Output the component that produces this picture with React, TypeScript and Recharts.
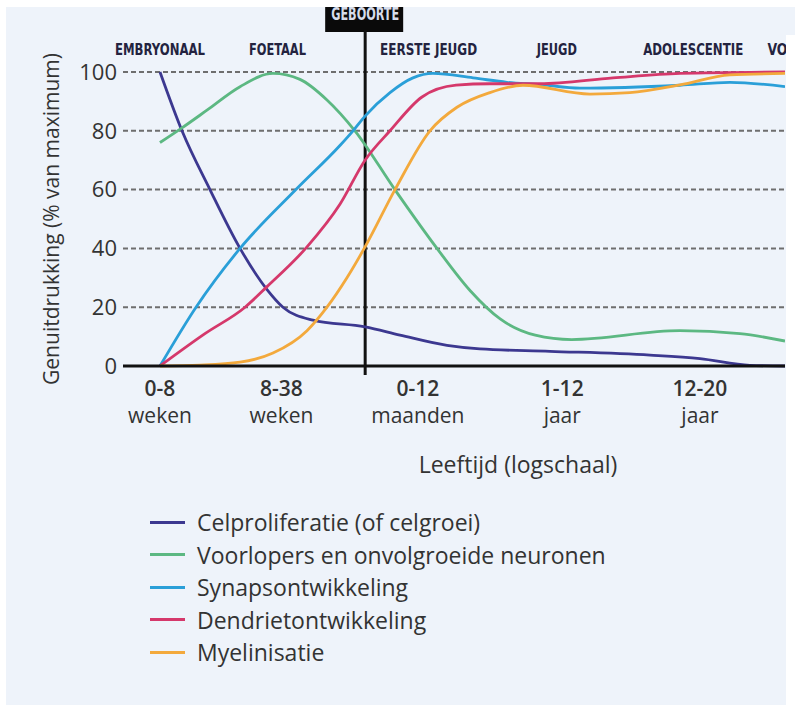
import React from 'react';
import { LineChart, Line, XAxis, YAxis, CartesianGrid, ReferenceLine } from 'recharts';

// ---------------------------------------------------------------------------
// Axes & labels
// ---------------------------------------------------------------------------

// age on a log-like position scale (0 = "0-8 weken")
const AGE_DOMAIN = [-0.274, 4.63];
const AGE_TICKS = [0, 0.9, 1.91, 2.98, 4];
const AGE_TOP = ['0-8', '8-38', '0-12', '1-12', '12-20'];
const AGE_BOTTOM = ['weken', 'weken', 'maanden', 'jaar', 'jaar'];

const PHASE_POS = [0, 0.87, 1.99, 2.94, 3.95, 4.5];
const PHASES = ['EMBRYONAAL', 'FOETAAL', 'EERSTE JEUGD', 'JEUGD', 'ADOLESCENTIE', 'VOLWASSENHEID'];
const PHASE_WIDTH = [90, 57, 97, 40, 100, 120];

const BIRTH = 1.52;
const Y_TICKS = [0, 20, 40, 60, 80, 100];

// ---------------------------------------------------------------------------
// Series (x = age position, y = % van maximum)
// ---------------------------------------------------------------------------

const CEL_X = [0, 0.163, 0.37, 0.593, 0.793, 0.911, 1.133, 1.519, 1.778, 2.126, 2.37, 2.889, 3.63, 4.0, 4.37, 4.63];
const CEL_Y = [100, 80, 60, 40, 26, 20, 15.6, 13.3, 10.5, 7, 5.8, 5, 3.7, 2.5, 0.2, 0];

const VOOR_X = [0, 0.163, 0.348, 0.593, 0.837, 1.037, 1.237, 1.444, 1.74, 2.052, 2.3, 2.52, 2.78, 3.05, 3.85, 4.296, 4.63];
const VOOR_Y = [76, 81, 87, 95, 99.5, 97.5, 90.5, 80, 60, 40, 25.5, 16, 10.5, 9, 12, 11, 8.5];

const SYN_X = [0, 0.267, 0.593, 1.007, 1.333, 1.43, 1.519, 1.704, 1.874, 2.022, 2.319, 2.57, 2.815, 3.111, 3.852, 4.222, 4.63];
const SYN_Y = [0, 20, 40, 60, 75, 80, 85, 93, 98, 99.5, 98, 96.5, 95.7, 94.5, 95.5, 96.5, 95];

const DEN_X = [0, 0.333, 0.63, 0.793, 1.089, 1.333, 1.519, 1.704, 1.941, 2.193, 2.444, 2.815, 3.356, 3.852, 4.63];
const DEN_Y = [0, 11, 20, 27, 40.5, 55, 70, 80, 91.5, 95.5, 96, 96, 98, 99.5, 100];

const MYE_X = [0, 0.296, 0.593, 0.837, 1.089, 1.237, 1.385, 1.519, 1.741, 2.0, 2.2, 2.444, 2.689, 3.185, 3.481, 3.852, 4.222, 4.63];
const MYE_Y = [0, 0.3, 1.3, 4.4, 12, 20, 30, 40.5, 60, 80, 88, 93, 95.5, 92.5, 93, 95.6, 99, 99.5];

const zip = (xs: number[], ys: number[]) => xs.map((x, i) => ({ x, y: ys[i] }));

const SERIES = [
  { name: 'Celproliferatie (of celgroei)', color: '#3c3890', data: zip(CEL_X, CEL_Y) },
  { name: 'Voorlopers en onvolgroeide neuronen', color: '#5cb882', data: zip(VOOR_X, VOOR_Y) },
  { name: 'Synapsontwikkeling', color: '#2a9fd8', data: zip(SYN_X, SYN_Y) },
  { name: 'Dendrietontwikkeling', color: '#d5386b', data: zip(DEN_X, DEN_Y) },
  { name: 'Myelinisatie', color: '#f3a93c', data: zip(MYE_X, MYE_Y) },
];

const FONT = '"Open Sans", "Noto Sans", sans-serif';
const NARROW = '"Liberation Sans Narrow", "DejaVu Sans Condensed", sans-serif';
const TEXT = '#333';

// ---------------------------------------------------------------------------
// Custom ticks / shapes
// ---------------------------------------------------------------------------

function AgeTick({ x, y, payload }: any) {
  const i = AGE_TICKS.indexOf(payload.value);
  if (i < 0) return null;
  return (
    <text x={x} y={y} textAnchor="middle" fontFamily={FONT} fontSize={21} fill={TEXT}>
      <tspan x={x} dy={30} fontWeight={600}>{AGE_TOP[i]}</tspan>
      <tspan x={x} dy={27}>{AGE_BOTTOM[i]}</tspan>
    </text>
  );
}

function PhaseLabel(i: number) {
  return ({ viewBox }: any) => {
    const last = i === PHASES.length - 1;
    return (
      <text
        x={viewBox.x}
        y={viewBox.y - 17}
        textAnchor={last ? 'start' : 'middle'}
        fontFamily={NARROW}
        fontWeight="bold"
        fontSize={16}
        fill="#23233f"
        textLength={PHASE_WIDTH[i]}
        lengthAdjust="spacingAndGlyphs"
      >
        {PHASES[i]}
      </text>
    );
  };
}

function BirthMarker(props: any) {
  const { x1, y1, y2 } = props;
  const top = Math.min(y1, y2);
  const bottom = Math.max(y1, y2);
  return (
    <g>
      <rect x={x1 - 40} y={top - 72} width={78} height={32} fill="#0a0a0a" />
      <text
        x={x1}
        y={top - 52}
        textAnchor="middle"
        fontFamily={NARROW}
        fontWeight="bold"
        fontSize={18}
        fill="#d5dceb"
        textLength={68}
        lengthAdjust="spacingAndGlyphs"
      >
        GEBOORTE
      </text>
      <line x1={x1} x2={x1} y1={top - 42} y2={bottom + 9} stroke="#111" strokeWidth={3} />
    </g>
  );
}

function LegendList() {
  return (
    <div style={{ fontFamily: FONT, fontSize: 23, color: TEXT }}>
      {SERIES.map((s) => (
        <div key={s.name} style={{ display: 'flex', alignItems: 'center', height: 32.5 }}>
          <span style={{ width: 35, height: 3, background: s.color, marginRight: 12, display: 'inline-block' }} />
          {s.name}
        </div>
      ))}
    </div>
  );
}

// ---------------------------------------------------------------------------
// Component
// ---------------------------------------------------------------------------

export default function App() {
  return (
    <div style={{ position: 'absolute', left: 0, top: 0, width: 795, height: 706, background: '#fff' }}>
      <div style={{ position: 'absolute', left: 6, top: 7, right: 0, bottom: 1, background: '#eef3fa' }} />
      <div style={{ position: 'absolute', left: 0, top: 0 }}>
        <LineChart width={795} height={706} margin={{ top: 72, right: 10, left: 0, bottom: 280 }}>
          <CartesianGrid vertical={false} stroke="#6e6e6e" strokeWidth={2} strokeDasharray="5 3" />
          <XAxis
            dataKey="x"
            type="number"
            domain={AGE_DOMAIN}
            allowDataOverflow
            ticks={AGE_TICKS}
            tick={<AgeTick />}
            axisLine={{ stroke: '#111', strokeWidth: 3 }}
            tickLine={false}
            tickSize={0}
            tickMargin={0}
            height={60}
            interval={0}
          />
          <YAxis
            type="number"
            domain={[0, 100]}
            ticks={Y_TICKS}
            width={123}
            axisLine={false}
            tickLine={false}
            tickSize={4}
            tickMargin={2}
            tick={{ fontFamily: FONT, fontSize: 22, fill: TEXT }}
            label={({ viewBox }: any) => (
              <text
                x={51}
                y={viewBox.y + viewBox.height / 2}
                transform={`rotate(-90 51 ${viewBox.y + viewBox.height / 2})`}
                textAnchor="middle"
                dominantBaseline="central"
                fontFamily={FONT}
                fontSize={21}
                fill={TEXT}
              >
                Genuitdrukking (% van maximum)
              </text>
            )}
          />
          {PHASE_POS.map((p, i) => (
            <ReferenceLine key={PHASES[i]} x={p} stroke="none" ifOverflow="visible" label={PhaseLabel(i)} />
          ))}
          <ReferenceLine x={BIRTH} shape={<BirthMarker />} />
          {SERIES.map((s) => (
            <Line
              key={s.name}
              data={s.data}
              dataKey="y"
              name={s.name}
              type="monotone"
              stroke={s.color}
              strokeWidth={2.8}
              dot={false}
              isAnimationActive={false}
            />
          ))}
        </LineChart>
      </div>
      <div style={{ position: 'absolute', left: 150, top: 506 }}>
        <LegendList />
      </div>
      <div
        style={{
          position: 'absolute',
          left: 378,
          top: 448,
          width: 280,
          textAlign: 'center',
          fontFamily: FONT,
          fontSize: 23,
          color: TEXT,
        }}
      >
        Leeftijd (logschaal)
      </div>
      <div style={{ position: 'absolute', left: 786, top: 35, width: 9, height: 671, background: '#fff' }} />
      <div style={{ position: 'absolute', left: 0, top: 0, width: 795, height: 7, background: '#fff' }} />
    </div>
  );
}
